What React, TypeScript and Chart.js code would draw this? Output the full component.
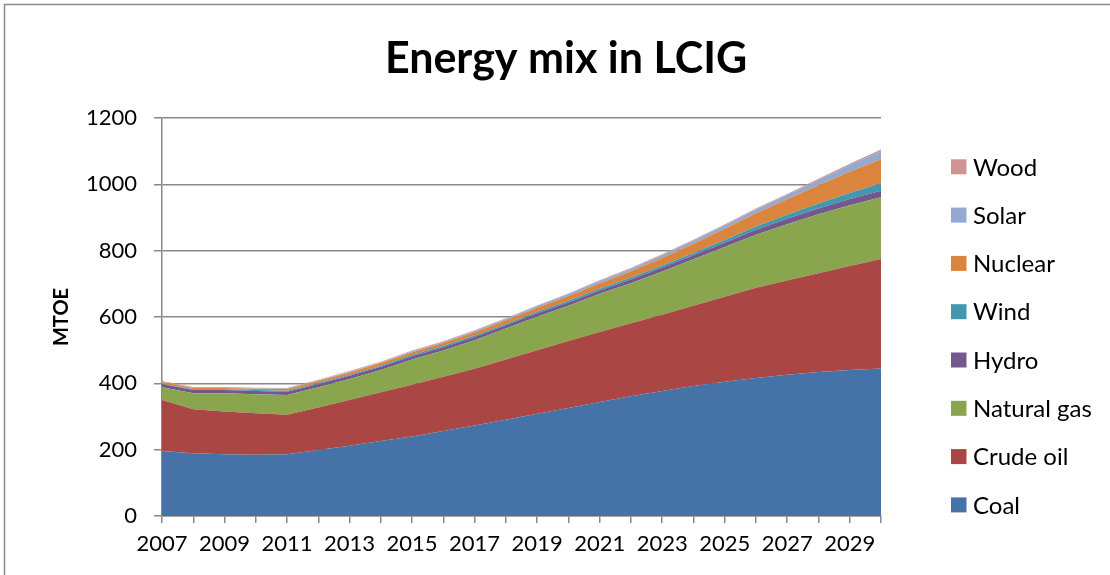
import React, { useEffect, useRef } from "react";
import { Chart, registerables } from "chart.js";

Chart.register(...registerables);

const TITLE = "Energy mix in LCIG";
const Y_TITLE = "MTOE";

const years = [
  "2007", "2008", "2009", "2010", "2011", "2012", "2013", "2014", "2015", "2016", "2017", "2018",
  "2019", "2020", "2021", "2022", "2023", "2024", "2025", "2026", "2027", "2028", "2029", "2030",
];

const coal = [196, 189, 186, 185, 186, 199, 212, 226, 240, 256, 273, 290, 308, 326, 344, 361, 377, 392, 405, 416, 426, 434, 440, 445];
const crudeOil = [154, 133, 129, 125, 119, 128, 138, 147, 156, 164, 171, 182, 192, 202, 211, 220, 230, 242, 256, 272, 284, 298, 314, 330];
const naturalGas = [38, 48, 55, 57, 60, 61, 63, 67, 76, 79, 86, 93, 101, 106, 115, 121, 130, 140, 150, 160, 170, 178, 183, 186];
const hydro = [10, 10, 10, 10, 10, 10, 10, 10, 10, 10, 10, 10, 10, 10, 10, 11, 12, 12, 13, 15, 16, 17, 19, 20];
const wind = [1, 2, 2, 3, 3, 3, 3, 3, 4, 4, 4, 4, 5, 5, 5, 6, 6, 7, 8, 10, 12, 15, 18, 22];
const nuclear = [5, 4, 4, 4, 5, 6, 7, 8, 8, 9, 10, 11, 12, 14, 16, 19, 23, 28, 34, 40, 47, 55, 64, 73];
const solar = [1, 1, 1, 1, 1, 2, 2, 2, 3, 3, 4, 4, 5, 6, 7, 7, 8, 9, 10, 11, 13, 16, 20, 24];
const wood = [2, 2, 2, 2, 2, 2, 2, 2, 2, 2, 2, 2, 2, 2, 3, 3, 3, 3, 3, 3, 3, 4, 4, 5];

const seriesNames = ["Coal", "Crude oil", "Natural gas", "Hydro", "Wind", "Nuclear", "Solar", "Wood"];
const seriesValues = [coal, crudeOil, naturalGas, hydro, wind, nuclear, solar, wood];
const seriesColors = ["#4572A7", "#AA4643", "#89A54E", "#71588F", "#4198AF", "#DB843D", "#93A9CF", "#D19392"];

const yTicks = { min: 0, max: 1200, step: 200 };

const GRID = "#898989";
const FONT = "Lato";

const decorPlugin = {
  id: "decor",
  beforeDraw(chart: any) {
    const ctx = chart.ctx;
    ctx.save();
    ctx.fillStyle = "#ffffff";
    ctx.fillRect(0, 0, chart.width, chart.height);
    ctx.strokeStyle = GRID;
    ctx.lineWidth = 1.5;
    ctx.strokeRect(4.5, 4.5, chart.width + 40, chart.height + 40);
    ctx.restore();
  },
  afterDraw(chart: any) {
    const ctx = chart.ctx;
    const area = chart.chartArea;
    ctx.save();
    ctx.fillStyle = "#000000";
    // title
    ctx.font = `bold 43px ${FONT}`;
    ctx.textAlign = "center";
    ctx.textBaseline = "alphabetic";
    ctx.fillText(TITLE, chart.width / 2 + 11, 73);
    // y axis title
    ctx.save();
    ctx.translate(62, (area.top + area.bottom) / 2);
    ctx.rotate(-Math.PI / 2);
    ctx.font = `bold 20px ${FONT}`;
    ctx.textAlign = "center";
    ctx.textBaseline = "middle";
    ctx.fillText(Y_TITLE, 0, 0);
    ctx.restore();
    // legend (reverse order, like the reference)
    const ds = chart.data.datasets;
    const n = ds.length;
    ctx.font = `24px ${FONT}`;
    ctx.textAlign = "left";
    ctx.textBaseline = "middle";
    for (let i = n - 1; i >= 0; i--) {
      const row = n - 1 - i;
      const cy = 166.8 + row * 48.3;
      const bx = area.right + 70;
      ctx.fillStyle = ds[i].backgroundColor;
      ctx.fillRect(bx, cy - 7.5, 15.5, 15);
      ctx.fillStyle = "#000000";
      ctx.fillText(ds[i].label, bx + 22, cy + 1);
    }
    ctx.restore();
  },
};

export default function App() {
  const canvasRef = useRef<HTMLCanvasElement | null>(null);

  useEffect(() => {
    document.body.style.margin = "0";
    let chart: Chart | null = null;
    let cancelled = false;

    const build = () => {
      if (cancelled || !canvasRef.current) return;
      chart = new Chart(canvasRef.current, {
        type: "line",
        data: {
          labels: years,
          datasets: seriesNames.map((name, i) => ({
            label: name,
            data: seriesValues[i],
            backgroundColor: seriesColors[i],
            borderColor: seriesColors[i],
            borderWidth: 0,
            pointRadius: 0,
            pointHoverRadius: 0,
            tension: 0,
            fill: i === 0 ? "origin" : "-1",
          })),
        },
        options: {
          responsive: false,
          animation: false,
          devicePixelRatio: 1,
          layout: { padding: { top: 118, right: 229, bottom: 0, left: 0 } },
          plugins: {
            legend: { display: false },
            title: { display: false },
            tooltip: { enabled: false },
          },
          scales: {
            x: {
              type: "category",
              offset: false,
              afterFit(scale: any) {
                scale.height = 59;
              },
              grid: {
                display: true,
                drawOnChartArea: false,
                drawTicks: true,
                tickLength: 7,
                color: GRID,
                lineWidth: 1.5,
              },
              border: { display: true, color: GRID, width: 1.5 },
              ticks: {
                autoSkip: false,
                maxRotation: 0,
                minRotation: 0,
                padding: 8,
                color: "#000000",
                font: { family: FONT, size: 22 },
                callback: (_v: any, idx: number) => (idx % 2 === 0 ? years[idx] : ""),
              },
            },
            y: {
              stacked: true,
              min: yTicks.min,
              max: yTicks.max,
              afterFit(scale: any) {
                scale.width = 162;
              },
              grid: {
                display: true,
                drawOnChartArea: true,
                drawTicks: true,
                tickLength: 8,
                color: GRID,
                lineWidth: 1.5,
              },
              border: { display: true, color: GRID, width: 1.5 },
              ticks: {
                stepSize: yTicks.step,
                padding: 17,
                color: "#000000",
                font: { family: FONT, size: 22 },
                callback: (v: any) => String(v),
              },
            },
          },
        },
        plugins: [decorPlugin],
      } as any);
    };

    const fontsReady = (document as any).fonts
      ? Promise.all([
          (document as any).fonts.load(`22px ${FONT}`),
          (document as any).fonts.load(`bold 42px ${FONT}`),
        ]).catch(() => null)
      : Promise.resolve(null);
    fontsReady.then(build);

    return () => {
      cancelled = true;
      if (chart) chart.destroy();
    };
  }, []);

  return (
    <div style={{ width: 1110, height: 575 }}>
      <canvas ref={canvasRef} width={1110} height={575} style={{ display: "block" }} />
    </div>
  );
}
